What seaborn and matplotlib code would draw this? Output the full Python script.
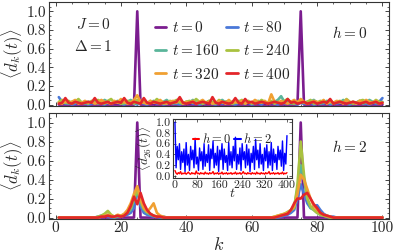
import numpy as np
import pandas as pd
import matplotlib
matplotlib.use("Agg")
import matplotlib.pyplot as plt
from matplotlib.ticker import MultipleLocator
import seaborn as sns

# ---------------- data ----------------
times = [0, 80, 160, 240, 320, 400]
colors = ["#7b1d8f", "#4a78d8", "#5ab59a", "#a9c23f", "#f0a032", "#e3262a"]

# h = 0 panel, k = 1..100
h0_t0 = [0.0] * 24 + [1.0] + [0.0] * 49 + [1.0] + [0.0] * 25
h0_t80 = [.08,.03,.01,.02,.00,.01,.03,.01,.02,.00, .01,.02,.03,.01,.00,.02,.01,.03,.02,.01,
          .00,.02,.03,.01,.00,.02,.01,.00,.02,.03, .01,.02,.00,.01,.03,.02,.01,.00,.02,.01,
          .03,.01,.02,.00,.01,.02,.03,.01,.00,.02, .01,.03,.02,.01,.00,.02,.01,.03,.02,.00,
          .01,.02,.00,.03,.01,.02,.01,.00,.02,.01, .03,.02,.01,.00,.02,.01,.03,.02,.00,.01,
          .02,.01,.03,.00,.02,.01,.02,.03,.01,.00, .02,.01,.03,.02,.01,.00,.02,.01,.03,.07]
h0_t160 = [.02,.04,.02,.01,.03,.02,.05,.02,.01,.03, .02,.04,.01,.02,.05,.03,.01,.02,.04,.02,
           .01,.03,.05,.02,.01,.02,.03,.01,.02,.04, .02,.01,.03,.05,.02,.01,.02,.04,.01,.03,
           .02,.05,.02,.01,.03,.02,.04,.01,.02,.03, .05,.02,.01,.03,.02,.04,.02,.01,.03,.02,
           .01,.04,.02,.03,.01,.02,.03,.05,.09,.03, .02,.01,.03,.02,.04,.02,.01,.03,.05,.02,
           .01,.02,.04,.02,.01,.03,.02,.05,.02,.01, .03,.02,.04,.01,.02,.05,.03,.02,.01,.03]
h0_t240 = [.03,.05,.02,.04,.01,.03,.06,.02,.03,.01, .04,.02,.05,.03,.01,.04,.06,.02,.03,.01,
           .02,.04,.03,.01,.05,.02,.03,.01,.04,.02, .06,.03,.01,.02,.04,.03,.05,.02,.01,.03,
           .04,.02,.06,.03,.01,.02,.04,.03,.01,.05, .02,.03,.04,.01,.02,.03,.05,.02,.04,.01,
           .03,.02,.05,.03,.02,.04,.01,.03,.02,.04, .06,.02,.01,.03,.04,.02,.03,.05,.01,.02,
           .04,.03,.02,.05,.01,.03,.04,.02,.06,.03, .01,.02,.04,.05,.03,.01,.02,.05,.03,.02]
h0_t320 = [.02,.01,.04,.02,.03,.05,.01,.02,.04,.02, .03,.01,.02,.05,.03,.02,.01,.04,.02,.06,
           .03,.01,.02,.05,.10,.03,.02,.01,.04,.02, .03,.05,.02,.01,.03,.04,.02,.06,.01,.03,
           .02,.04,.01,.03,.05,.02,.03,.01,.02,.04, .03,.01,.05,.02,.03,.02,.04,.01,.03,.02,
           .05,.03,.02,.04,.01,.11,.03,.02,.04,.02, .01,.03,.05,.02,.06,.03,.01,.02,.04,.03,
           .02,.05,.01,.03,.02,.04,.03,.01,.05,.02, .03,.01,.04,.02,.05,.03,.02,.04,.01,.02]
h0_t400 = [.01,.02,.07,.02,.01,.03,.02,.01,.02,.03, .02,.07,.02,.01,.02,.03,.01,.02,.03,.02,
           .07,.02,.01,.03,.02,.01,.07,.02,.01,.03, .02,.01,.02,.03,.01,.02,.03,.08,.02,.01,
           .02,.03,.01,.02,.03,.02,.01,.08,.02,.01, .03,.02,.01,.02,.07,.02,.01,.06,.02,.03,
           .01,.02,.03,.02,.01,.02,.03,.02,.01,.02, .06,.02,.03,.01,.02,.03,.01,.02,.03,.01,
           .02,.03,.02,.06,.01,.02,.03,.02,.01,.02, .03,.02,.01,.02,.03,.01,.02,.03,.01,.02]

# h = 2 panel, k = 1..100
z10 = [0.0] * 10
h2_t0 = [0.0] * 24 + [1.0] + [0.0] * 49 + [1.0] + [0.0] * 25
h2_t80 = (z10 + [0,0,.01,.02,.03,.01,0,.01,.02,.01]
          + [.02,.03,.05,.10,.30,.12,.05,.03,.02,.01]
          + [.01,0,.01,0,0,0,0,0,0,0] + z10 + z10
          + [0,0,0,0,0,0,0,0,.01,.02]
          + [.03,.05,.08,.20,.35,.25,.15,.10,.12,.13]
          + [.08,.04,.02,.01,.01,0,0,0,0,0] + z10)
h2_t160 = (z10 + [0,0,0,.01,.02,.03,.01,0,.01,.02]
           + [.03,.05,.08,.18,.28,.15,.08,.05,.03,.02]
           + [.01,.01,0,0,0,0,0,0,0,0] + z10 + z10
           + [0,0,0,0,0,0,0,.01,.02,.03]
           + [.05,.08,.12,.30,.55,.40,.20,.10,.08,.05]
           + [.03,.02,.01,0,0,0,0,0,0,0] + z10)
h2_t240 = (z10 + [0,0,.01,.02,.04,.07,.03,.01,.02,.01]
           + [.03,.06,.10,.20,.30,.18,.10,.06,.04,.02]
           + [.01,.01,0,0,0,0,0,0,0,0] + z10 + z10
           + [0,0,0,0,0,0,.01,.02,.03,.04]
           + [.06,.08,.10,.35,.80,.45,.20,.12,.08,.05]
           + [.03,.02,.01,0,0,0,0,0,0,0] + z10)
h2_t320 = (z10 + [0,0,0,.01,.02,.03,.02,.01,.03,.02]
           + [.04,.08,.15,.25,.33,.20,.10,.06,.10,.15]
           + [.05,.02,.01,0,0,0,0,0,0,0] + z10 + z10
           + [0,0,0,0,0,0,.01,.02,.03,.04]
           + [.05,.08,.12,.25,.45,.40,.30,.20,.12,.08]
           + [.05,.03,.02,.01,0,0,0,0,0,0] + z10)
h2_t400 = (z10 + [0,0,0,.01,.01,.02,.01,.01,.02,.01]
           + [.02,.05,.12,.22,.14,.26,.15,.08,.04,.02]
           + [.01,.01,0,0,0,0,0,0,0,0] + z10 + z10
           + [0,0,0,0,0,0,0,.01,.02,.03]
           + [.04,.08,.15,.20,.20,.24,.26,.20,.14,.10]
           + [.05,.03,.02,.01,0,0,0,0,0,0] + z10)

# inset: <d_26(t)>, t = 0..400 step 4
inset_t = list(range(0, 401, 4))
inset_h2 = [1.0,.15,.55,.30,.60,.12,.45,.25,.50,.08, .62,.20,.40,.10,.55,.30,.48,.15,.70,.22,
            .35,.10,.52,.28,.45,.12,.60,.18,.40,.25, .58,.10,.50,.32,.65,.15,.42,.20,.55,.08,
            .48,.30,.60,.12,.50,.25,.38,.10,.62,.20, .45,.15,.55,.28,.72,.12,.40,.22,.52,.10,
            .60,.30,.45,.15,.58,.20,.50,.08,.42,.25, .55,.12,.68,.30,.48,.15,.60,.22,.40,.10,
            .52,.28,.58,.15,.45,.20,.62,.10,.50,.25, .40,.12,.55,.30,.48,.18,.65,.10,.42,.22,
            .75]
inset_h0 = [.10,.05,.03,.06,.04,.08,.03,.05,.04,.06, .03,.05,.07,.04,.03,.06,.04,.05,.03,.09,
            .04,.05,.03,.06,.04,.05,.03,.07,.04,.05, .03,.06,.04,.05,.08,.03,.05,.04,.06,.03,
            .05,.04,.07,.03,.05,.04,.06,.03,.05,.04, .06,.03,.05,.04,.07,.03,.05,.04,.06,.03,
            .05,.08,.04,.05,.03,.06,.04,.05,.03,.06, .04,.05,.03,.07,.04,.05,.03,.06,.04,.05,
            .03,.06,.04,.05,.08,.03,.05,.04,.06,.03, .05,.04,.06,.03,.05,.04,.07,.03,.05,.04,
            .06]

# ---------------- style ----------------
sns.set_theme(style="ticks")
plt.rcParams.update({
    "font.family": "serif",
    "font.serif": ["cmr10", "DejaVu Serif"],
    "mathtext.fontset": "cm",
    "axes.formatter.use_mathtext": True,
    "axes.unicode_minus": False,
    "axes.edgecolor": "#333333",
    "axes.linewidth": 0.8,
})


def long_df(series):
    rows = []
    for t, vals in zip(times, series):
        for i, v in enumerate(vals):
            rows.append((i + 1, v, t))
    return pd.DataFrame(rows, columns=["k", "d", "t"])


fig = plt.figure(figsize=(3.95, 2.52), dpi=100)
ax1 = fig.add_axes([49 / 395, 1 - 106 / 252, 340 / 395, 104 / 252])
ax2 = fig.add_axes([49 / 395, 1 - 219 / 252, 340 / 395, 106 / 252])

panels = [(ax1, [h0_t0, h0_t80, h0_t160, h0_t240, h0_t320, h0_t400]),
          (ax2, [h2_t0, h2_t80, h2_t160, h2_t240, h2_t320, h2_t400])]
pal = dict(zip(times, colors))
for ax, series in panels:
    df = long_df(series)
    sns.lineplot(data=df, x="k", y="d", hue="t", palette=pal, lw=1.9,
                 ax=ax, legend=False, estimator=None, sort=False)
    ax.set_xlim(-2, 102)
    ax.set_ylim(-0.015, 1.1)
    ax.set_xticks([0, 20, 40, 60, 80, 100])
    ax.xaxis.set_minor_locator(MultipleLocator(5))
    ax.set_yticks([0, 0.2, 0.4, 0.6, 0.8, 1.0])
    ax.set_yticklabels(["0.0", "0.2", "0.4", "0.6", "0.8", "1.0"])
    ax.yaxis.set_minor_locator(MultipleLocator(0.05))
    ax.tick_params(which="both", direction="in", top=True, right=True,
                   labelsize=11, pad=2)
    ax.tick_params(which="major", length=3, width=0.6)
    ax.tick_params(which="minor", length=1.5, width=0.5)
    ax.set_ylabel(r"$\langle d_k(t)\rangle$", fontsize=12)
    ax.yaxis.set_label_coords(-0.072, 0.5)
    ax.set_xlabel("")

ax1.set_xticklabels([])
ax2.set_xticklabels(["0", "20", "40", "60", "80", "100"])
ax2.set_xlabel(r"$k$", fontsize=13)
ax2.xaxis.set_label_coords(0.5, -0.165)

ax1.text(0.13, 0.78, r"$J=0$", transform=ax1.transAxes, fontsize=11, ha="center", va="center")
ax1.text(0.13, 0.57, r"$\Delta=1$", transform=ax1.transAxes, fontsize=11, ha="center", va="center")
ax1.text(0.885, 0.70, r"$h=0$", transform=ax1.transAxes, fontsize=11, ha="center", va="center")
ax2.text(0.885, 0.68, r"$h=2$", transform=ax2.transAxes, fontsize=11, ha="center", va="center")

handles = [plt.Line2D([], [], color=c, lw=2) for c in colors]
labels = [rf"$t={t}$" for t in times]
order = [0, 2, 4, 1, 3, 5]
ax1.legend([handles[i] for i in order], [labels[i] for i in order], ncol=2,
           loc="upper left", bbox_to_anchor=(0.28, 0.93),
           frameon=False, fontsize=11, handlelength=0.75, handletextpad=0.35,
           columnspacing=0.5, labelspacing=0.55, borderpad=0.2)

# inset
axin = fig.add_axes([173 / 395, 1 - 178 / 252, 119 / 395, 59 / 252])
dfi = pd.DataFrame({"t": inset_t * 2, "d": inset_h0 + inset_h2,
                    "h": ["h0"] * len(inset_t) + ["h2"] * len(inset_t)})
sns.lineplot(data=dfi, x="t", y="d", hue="h", palette={"h0": "#ff0000", "h2": "#0000ff"},
             lw=1.0, ax=axin, legend=False, estimator=None, sort=False,
             hue_order=["h2", "h0"])
axin.set_xlim(-7, 418)
axin.set_ylim(-0.04, 1.06)
axin.set_xticks([0, 80, 160, 240, 320, 400])
axin.set_xticklabels(["0", "80", "160", "240", "320", "400"])
axin.set_yticks([0, 0.2, 0.4, 0.6, 0.8, 1.0])
axin.set_yticklabels(["0.0", "0.2", "0.4", "0.6", "0.8", "1.0"])
axin.tick_params(which="both", direction="in", top=True, right=True, labelsize=8.5, pad=1.5,
                 length=2, width=0.5)
axin.set_xlabel(r"$t$", fontsize=10, labelpad=-2)
axin.set_ylabel(r"$\langle d_{26}(t)\rangle$", fontsize=9.5, labelpad=1)
ih = [plt.Line2D([], [], color="#ff0000", lw=1.5), plt.Line2D([], [], color="#0000ff", lw=1.5)]
axin.legend(ih, [r"$h=0$", r"$h=2$"], ncol=2, loc="upper center", bbox_to_anchor=(0.5, 0.9),
            frameon=False, fontsize=9, handlelength=0.5, handletextpad=0.2,
            columnspacing=0.3, borderpad=0.1)

fig.savefig("out.png", dpi=100)
